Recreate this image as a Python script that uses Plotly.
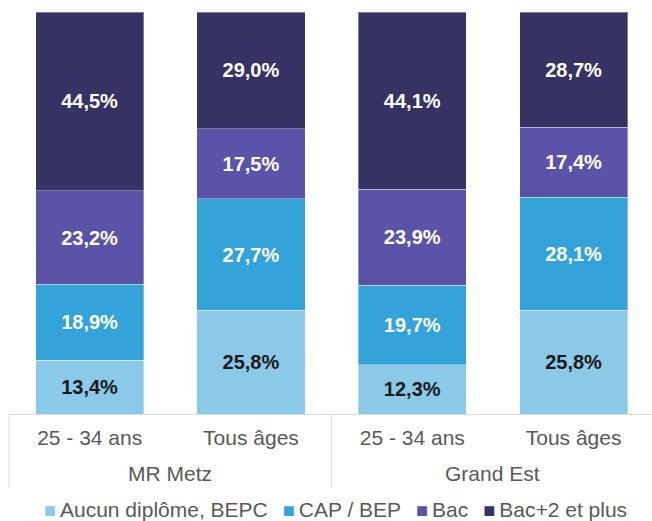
import plotly.graph_objects as go

# ---- data ----
groups = ["MR Metz", "MR Metz", "Grand Est", "Grand Est"]
ages = ["25 - 34 ans", "Tous âges", "25 - 34 ans", "Tous âges"]
series_names = ["Aucun diplôme, BEPC", "CAP / BEP", "Bac", "Bac+2 et plus"]
aucun = [13.4, 25.8, 12.3, 25.8]
cap_bep = [18.9, 27.7, 19.7, 28.1]
bac = [23.2, 17.5, 23.9, 17.4]
bac2 = [44.5, 29.0, 44.1, 28.7]
group_labels = ["MR Metz", "Grand Est"]

# ---- styles ----
colors = ["#8bc9e8", "#34a3da", "#5a53a8", "#363264"]
text_colors = ["#1a1a1a", "white", "white", "white"]
FONT = "Liberation Sans, Arial, sans-serif"
GREY = "#595959"
LINE = "#d9d9d9"

x_keys = [f"{g} | {a}" for g, a in zip(groups, ages)]
values = [aucun, cap_bep, bac, bac2]

fig = go.Figure()
for name, vals, col, tcol in zip(series_names, values, colors, text_colors):
    fig.add_trace(go.Bar(
        x=x_keys, y=vals, name=name,
        marker=dict(color=col, line=dict(color="rgba(255,255,255,0.35)", width=1)),
        texttemplate="%{y:.1f}%", textposition="inside", insidetextanchor="middle",
        textangle=0, constraintext="none",
        textfont=dict(family=FONT, size=20, color=tcol, weight="bold"),
        showlegend=False, hoverinfo="skip",
    ))

x_lo, x_hi = -0.5, 3.486
span = x_hi - x_lo

def dom(v):
    return (v - x_lo) / span

# group divider lines below the axis
for xv in [-0.5, 1.5, 3.5]:
    fig.add_shape(type="line", xref="x domain", yref="paper",
                  x0=dom(xv), x1=dom(xv), y0=0, y1=-0.184,
                  line=dict(color=LINE, width=1), layer="above")

# group labels
for i, lab in enumerate(group_labels):
    fig.add_annotation(x=2 * i + 0.5, xref="x", y=-0.149, yref="paper",
                       text=lab, showarrow=False, yanchor="middle",
                       font=dict(family=FONT, size=21, color=GREY))

# legend built as text
parts = []
for name, col in zip(series_names, colors):
    parts.append(
        f"<span style='color:{col};font-size:20px'>■</span>"
        f"<span style='font-size:14px'>\u00a0</span>{name}"
    )
gap = "<span style='font-size:18px'>\u00a0\u00a0\u00a0</span>"
legend_text = gap.join(parts)
fig.add_annotation(x=0.5078, xref="paper", y=-0.2388, yref="paper",
                   text=legend_text, showarrow=False, yanchor="middle",
                   xanchor="center",
                   font=dict(family=FONT, size=21, color=GREY))

fig.update_layout(
    width=652, height=521, autosize=False,
    margin=dict(l=9, r=0, t=12, b=107),
    barmode="stack", bargap=0.33,
    separators=",.",
    plot_bgcolor="white", paper_bgcolor="white",
    font=dict(family=FONT, size=21, color=GREY),
    xaxis=dict(type="category", range=[x_lo, x_hi],
               tickvals=x_keys, ticktext=ages,
               showline=True, linecolor=LINE, linewidth=1,
               ticks="", showgrid=False, zeroline=False,
               ticklabelstandoff=5,
               tickfont=dict(family=FONT, size=21, color=GREY)),
    yaxis=dict(range=[0, 100], visible=False, showgrid=False, zeroline=False),
)

fig.write_html(
    "out.html",
    config={"displayModeBar": False},
    post_script="document.body.style.margin='0';document.body.style.overflow='hidden';",
)
